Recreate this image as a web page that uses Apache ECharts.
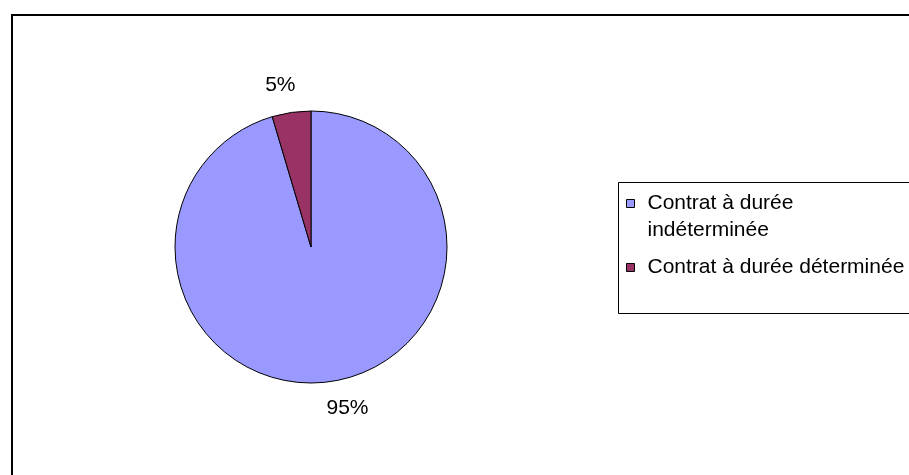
<!DOCTYPE html>
<html>
<head>
<meta charset="utf-8">
<style>
html,body{margin:0;padding:0;background:#fff;}
#chart{width:909px;height:475px;}
</style>
<script src="https://cdn.jsdelivr.net/npm/echarts@6/dist/echarts.min.js"></script>
</head>
<body>
<div id="chart"></div>
<script>
// ---- data ----
var categories = ['Contrat à durée indéterminée', 'Contrat à durée déterminée'];
var legendLabels = ['\nContrat à durée\nindéterminée', 'Contrat à durée déterminée'];
var values = [95.4, 4.6];
var colors = ['#9999FF', '#993366'];

var FONT = '"Liberation Sans", Arial, sans-serif';
var chart = echarts.init(document.getElementById('chart'), null, {renderer: 'canvas'});

var pieData = categories.map(function (c, i) {
  return { name: c, value: values[i], itemStyle: { color: colors[i] } };
});

var option = {
  backgroundColor: '#fff',
  animation: false,
  graphic: [
    { type: 'rect', shape: { x: 12, y: 15, width: 1000, height: 1000 },
      style: { fill: 'none', stroke: '#000', lineWidth: 2 }, silent: true, z: 0 },
    { type: 'rect', shape: { x: 618.5, y: 182.5, width: 400, height: 131 },
      style: { fill: 'none', stroke: '#000', lineWidth: 1 }, silent: true, z: 0 }
  ],
  legend: {
    orient: 'vertical',
    left: 626,
    top: 163,
    padding: 0,
    itemGap: 10,
    itemWidth: 8,
    itemHeight: 8,
    icon: 'rect',
    selectedMode: false,
    itemStyle: { borderColor: '#000', borderWidth: 1 },
    textStyle: { fontFamily: FONT, fontSize: 21, color: '#000', lineHeight: 27, padding: [0, 0, 0, 8] },
    formatter: function (name) {
      return legendLabels[categories.indexOf(name)];
    },
    data: categories
  },
  series: [{
    type: 'pie',
    center: [311, 247],
    radius: 136,
    startAngle: 90,
    clockwise: true,
    avoidLabelOverlap: false,
    itemStyle: { borderColor: '#000', borderWidth: 1 },
    emphasis: { disabled: true },
    label: {
      show: true,
      position: 'outside',
      fontFamily: FONT,
      fontSize: 21,
      color: '#000',
      distanceToLabelLine: -8,
      formatter: function (p) { return Math.round(p.percent) + '%'; }
    },
    labelLine: { show: false, length: 27, length2: 0 },
    data: pieData
  }]
};
chart.setOption(option);
</script>
</body>
</html>
